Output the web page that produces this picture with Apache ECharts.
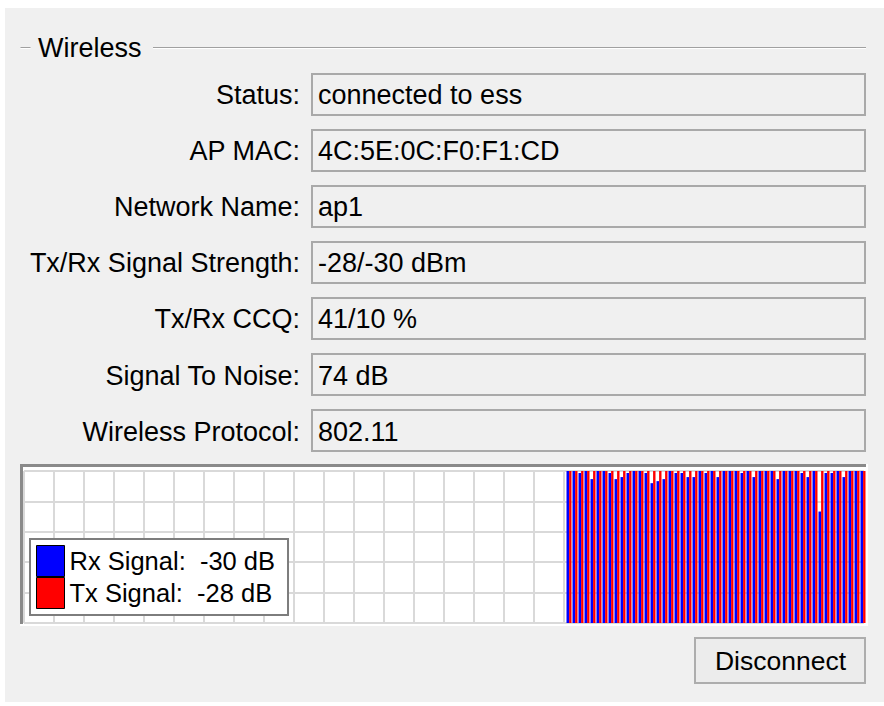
<!DOCTYPE html>
<html>
<head>
<meta charset="utf-8">
<script src="https://cdn.jsdelivr.net/npm/echarts@6/dist/echarts.min.js"></script>
<style>
html,body{margin:0;padding:0;background:#ffffff;}
#chart{width:884px;height:706px;}
</style>
</head>
<body>
<div id="chart"></div>
<script>
// ---------- data ----------
const groupTitle = 'Wireless';
const fieldLabels = ['Status:', 'AP MAC:', 'Network Name:', 'Tx/Rx Signal Strength:', 'Tx/Rx CCQ:', 'Signal To Noise:', 'Wireless Protocol:'];
const fieldValues = ['connected to ess', '4C:5E:0C:F0:F1:CD', 'ap1', '-28/-30 dBm', '41/10 %', '74 dB', '802.11'];
const buttonLabel = 'Disconnect';
const seriesNames = ['Rx Signal', 'Tx Signal'];
// signal history in dBm (oldest -> newest), last 50 samples
const rxSignal = [-30, -30, -31, -30, -34, -30, -30, -31, -34, -33,
                  -31, -30, -30, -31, -36, -35, -34, -30, -31, -31,
                  -33, -33, -30, -31, -30, -33, -30, -30, -30, -31,
                  -30, -33, -30, -30, -30, -34, -30, -30, -30, -31,
                  -33, -30, -50, -31, -31, -30, -33, -30, -30, -30];
const txSignal = [-28, -28, -28, -28, -28, -28, -28, -28, -28, -28,
                  -28, -28, -28, -28, -28, -28, -28, -28, -28, -28,
                  -28, -28, -28, -28, -28, -28, -28, -28, -28, -28,
                  -28, -28, -28, -28, -28, -28, -28, -28, -28, -28,
                  -28, -28, -28, -28, -28, -28, -28, -28, -28, -28];
const historySlots = 140;      // width of the scrolling history
const floorDbm = -105;         // bottom of the graph
const topDbm = -30;            // top of the graph

// ---------- build ----------
const FONT = "'Liberation Sans', Arial, sans-serif";
const pad = historySlots - rxSignal.length;
const cats = Array.from({length: historySlots}, (_, i) => String(i));
const toLevel = v => (v == null ? null : v - floorDbm);
const rxData = Array(pad).fill(null).concat(rxSignal.map(toLevel));
const txData = Array(pad).fill(null).concat(txSignal.map(toLevel));
const current = {
  'Rx Signal': rxSignal[rxSignal.length - 1],
  'Tx Signal': txSignal[txSignal.length - 1]
};

const graphic = [];
// dialog panel
graphic.push({type: 'rect', z: -100, silent: true, shape: {x: 5, y: 8, width: 879, height: 694}, style: {fill: '#f0f0f0'}});
// group box title with etched line
[[20.5, 30.5], [153, 866]].forEach(([a, b]) => {
  graphic.push({type: 'line', z: -90, silent: true, shape: {x1: a, y1: 47.5, x2: b, y2: 47.5}, style: {stroke: '#a0a0a0', lineWidth: 1}});
  graphic.push({type: 'line', z: -90, silent: true, shape: {x1: a, y1: 48.5, x2: b, y2: 48.5}, style: {stroke: '#ffffff', lineWidth: 1}});
});
graphic.push({type: 'text', z: -80, silent: true, x: 38, y: 48,
  style: {text: groupTitle, fill: '#000', font: '27px ' + FONT, textVerticalAlign: 'middle', verticalAlign: 'middle'}});
// fields
fieldLabels.forEach((lab, i) => {
  const cy = 94 + 56.1 * i;
  graphic.push({type: 'text', z: -80, silent: true, x: 300, y: cy + 1,
    style: {text: lab, fill: '#000', font: '27px ' + FONT, align: 'right', textAlign: 'right', verticalAlign: 'middle', textVerticalAlign: 'middle'}});
  graphic.push({type: 'rect', z: -85, silent: true, shape: {x: 312, y: Math.round(cy - 20.5), width: 553, height: 41},
    style: {fill: '#f0f0f0', stroke: '#a9a9a9', lineWidth: 2}});
  graphic.push({type: 'text', z: -80, silent: true, x: 318, y: cy + 1,
    style: {text: fieldValues[i], fill: '#000', font: '27px ' + FONT, verticalAlign: 'middle', textVerticalAlign: 'middle'}});
});
// graph frame (sunken)
graphic.push({type: 'rect', z: -70, silent: true, shape: {x: 20, y: 464, width: 848, height: 162}, style: {fill: '#ffffff'}});
graphic.push({type: 'rect', z: -69, silent: true, shape: {x: 20, y: 464, width: 846, height: 160}, style: {fill: '#8a8a8a'}});
graphic.push({type: 'rect', z: -68, silent: true, shape: {x: 23, y: 467, width: 843, height: 157}, style: {fill: '#ffffff'}});
// button
graphic.push({type: 'rect', z: -60, silent: true, shape: {x: 695, y: 638, width: 170, height: 45},
  style: {fill: '#ececec', stroke: '#adadad', lineWidth: 2}});
graphic.push({type: 'text', z: -50, silent: true, x: 780.5, y: 661,
  style: {text: buttonLabel, fill: '#000', font: '26.5px ' + FONT, align: 'center', textAlign: 'center', verticalAlign: 'middle', textVerticalAlign: 'middle'}});

const chart = echarts.init(document.getElementById('chart'), null, {renderer: 'svg', width: 884, height: 706});
chart.setOption({
  animation: false,
  backgroundColor: '#ffffff',
  textStyle: {fontFamily: FONT},
  graphic: graphic,
  grid: [
    {left: 24, top: 471, width: 840, height: 152, containLabel: false},
    {left: 26, top: 471, width: 840, height: 152, containLabel: false}
  ],
  xAxis: [
    {type: 'value', gridIndex: 0, min: 0, max: 28, interval: 1,
     axisLine: {show: false}, axisTick: {show: false}, axisLabel: {show: false},
     splitLine: {show: true, lineStyle: {color: '#d9d9d9', width: 2}}},
    {type: 'category', gridIndex: 1, data: cats, boundaryGap: true,
     axisLine: {show: false}, axisTick: {show: false}, axisLabel: {show: false}, splitLine: {show: false}}
  ],
  yAxis: [
    {type: 'value', gridIndex: 0, min: 0, max: topDbm - floorDbm, interval: 15,
     axisLine: {show: false}, axisTick: {show: false}, axisLabel: {show: false},
     splitLine: {show: true, lineStyle: {color: '#d9d9d9', width: 2}}},
    {type: 'value', gridIndex: 1, min: 0, max: topDbm - floorDbm, interval: 15,
     axisLine: {show: false}, axisTick: {show: false}, axisLabel: {show: false}, splitLine: {show: false}}
  ],
  legend: {
    show: true, orient: 'vertical', left: 30, top: 539,
    itemWidth: 28, itemHeight: 31, itemGap: 0,
    icon: 'rect', selectedMode: false,
    backgroundColor: '#ffffff', borderColor: '#7d7d7d', borderWidth: 2, borderRadius: 0,
    padding: [6, 13, 6, 6],
    itemStyle: {borderColor: '#000000', borderWidth: 1},
    textStyle: {fontSize: 25.5, color: '#000000', fontFamily: FONT},
    formatter: name => name + ':  ' + current[name] + ' dB',
    data: seriesNames
  },
  series: [
    {name: seriesNames[0], type: 'bar', xAxisIndex: 1, yAxisIndex: 1, data: rxData,
     barWidth: 2.6, barGap: '0%', clip: true, itemStyle: {color: '#0000ff'}},
    {name: seriesNames[1], type: 'bar', xAxisIndex: 1, yAxisIndex: 1, data: txData,
     barWidth: 2.4, barGap: '0%', clip: true, itemStyle: {color: '#ff0000'}}
  ]
});
</script>
</body>
</html>
